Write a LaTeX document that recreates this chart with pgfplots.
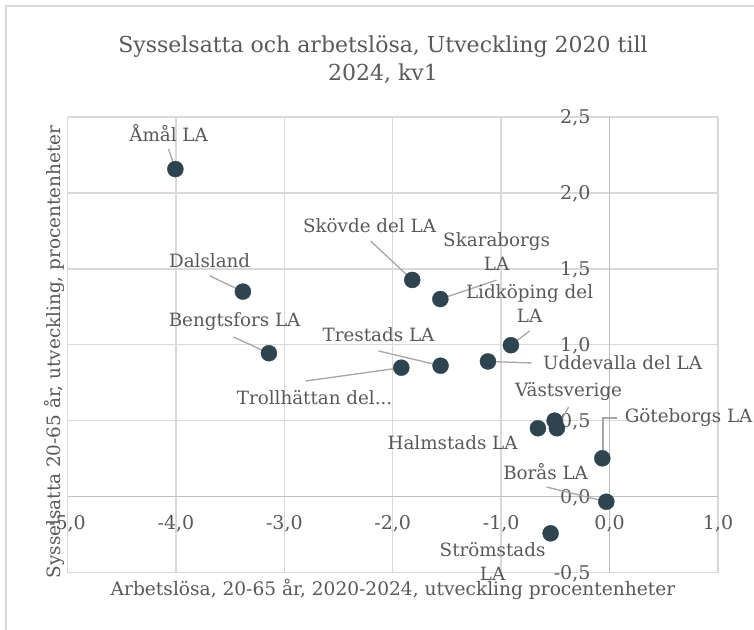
\documentclass[border=0pt]{standalone}
\usepackage{fontspec}
\setmainfont{DejaVu Serif}
\usepackage{pgfplots}
\pgfplotsset{compat=1.18}
\definecolor{dotc}{HTML}{2E4450}
\definecolor{txt}{HTML}{595959}
\definecolor{gridc}{HTML}{D9D9D9}
\definecolor{axc}{HTML}{BFBFBF}
\definecolor{leadc}{HTML}{A6A6A6}
\newcommand{\lab}{\fontsize{18.3}{24}\selectfont}
\newcommand{\tck}{\fontsize{19}{22}\selectfont}
\begin{document}
\begin{tikzpicture}[x=1pt,y=1pt]
\useasboundingbox (0,0) rectangle (754,629);
\fill[white] (0,0) rectangle (754,629);
\draw[gridc, line width=2pt] (5.5,-5) -- (5.5,622.5) -- (760,622.5);
\begin{axis}[
  at={(67.5pt,56.5pt)}, anchor=south west,
  scale only axis, width=650.5pt, height=455.5pt,
  xmin=-5, xmax=1, ymin=-0.5, ymax=2.5,
  axis lines=middle,
  axis line style={draw=axc, line width=1.4pt, -},
  grid=major,
  major grid style={draw=gridc, line width=1.4pt},
  xtick={-5,-4,-3,-2,-1,0,1},
  ytick={-0.5,0,0.5,1,1.5,2,2.5},
  xticklabels={{-5,0},{-4,0},{-3,0},{-2,0},{-1,0},{0,0},{1,0}},
  yticklabels={{-0,5},{0,0},{0,5},{1,0},{1,5},{2,0},{2,5}},
  hide obscured x ticks=false,
  hide obscured y ticks=false,
  major tick length=0pt,
  tick style={draw=none},
  xticklabel style={anchor=base, yshift=-32.5pt, text=txt, font=\tck, inner sep=0pt},
  yticklabel style={anchor=east, xshift=-19pt, yshift=-1pt, text=txt, font=\tck, inner sep=0pt},
  clip=false,
]
\addplot[only marks, mark=*, mark size=8pt, mark options={fill=dotc, draw=dotc}] coordinates {
(-4.005,2.157) (-3.382,1.350) (-3.142,0.944) (-1.820,1.427) (-1.561,1.301)
(-0.910,0.997) (-1.122,0.890) (-1.559,0.862) (-1.921,0.849) (-0.507,0.500)
(-0.486,0.450) (-0.661,0.450) (-0.067,0.252) (-0.030,-0.034) (-0.544,-0.242)
};
\begin{scope}[leadc, line width=1.3pt]
\draw (axis cs:-4.068,2.289) -- (axis cs:-4.005,2.157);
\draw (axis cs:-3.689,1.454) -- (axis cs:-3.382,1.350);
\draw (axis cs:-3.468,1.051) -- (axis cs:-3.142,0.944);
\draw (axis cs:-2.204,1.683) -- (axis cs:-1.820,1.427);
\draw (axis cs:-1.042,1.426) -- (axis cs:-1.561,1.301);
\draw (axis cs:-0.738,1.091) -- (axis cs:-0.910,0.997);
\draw (axis cs:-0.719,0.880) -- (axis cs:-1.122,0.890);
\draw (axis cs:-2.131,0.959) -- (axis cs:-1.559,0.862);
\draw (axis cs:-2.804,0.761) -- (axis cs:-1.921,0.849);
\draw (axis cs:-0.378,0.590) -- (axis cs:-0.486,0.450);
\draw (axis cs:0.065,0.518) -- (axis cs:-0.06,0.518) -- (axis cs:-0.06,0.254);
\draw (axis cs:-0.581,0.063) -- (axis cs:-0.030,-0.034);
\end{scope}
\begin{scope}[every node/.style={text=txt, font=\lab, inner sep=0pt, align=center}]
\node at (axis cs:-4.068,2.395) {Åmål LA};
\node at (axis cs:-3.689,1.553) {Dalsland};
\node at (axis cs:-3.459,1.150) {Bengtsfors LA};
\node at (axis cs:-2.214,1.782) {Skövde del LA};
\node at (axis cs:-1.042,1.614) {Skaraborgs\\LA};
\node at (axis cs:-0.738,1.272) {Lidköping del\\LA};
\node at (axis cs:0.120,0.880) {Uddevalla del LA};
\node at (axis cs:-2.131,1.064) {Trestads LA};
\node at (axis cs:-2.721,0.649) {Trollhättan del...};
\node at (axis cs:-0.378,0.689) {Västsverige};
\node at (axis cs:0.729,0.518) {Göteborgs LA};
\node at (axis cs:-1.448,0.353) {Halmstads LA};
\node at (axis cs:-0.590,0.166) {Borås LA};
\node at (axis cs:-1.079,-0.427) {Strömstads\\LA};
\end{scope}
\end{axis}
\node[text=txt, font=\fontsize{22}{28}\selectfont, align=center, inner sep=0pt] at (383,569) {Sysselsatta och arbetslösa, Utveckling 2020 till\\2024, kv1};
\node[text=txt, font=\fontsize{18.6}{22}\selectfont, inner sep=0pt] at (393,40) {Arbetslösa, 20-65 år, 2020-2024, utveckling procentenheter};
\node[text=txt, font=\fontsize{18.4}{22}\selectfont, inner sep=0pt, rotate=90] at (54,277) {Sysselsatta 20-65 år, utveckling, procentenheter};
\end{tikzpicture}
\end{document}
